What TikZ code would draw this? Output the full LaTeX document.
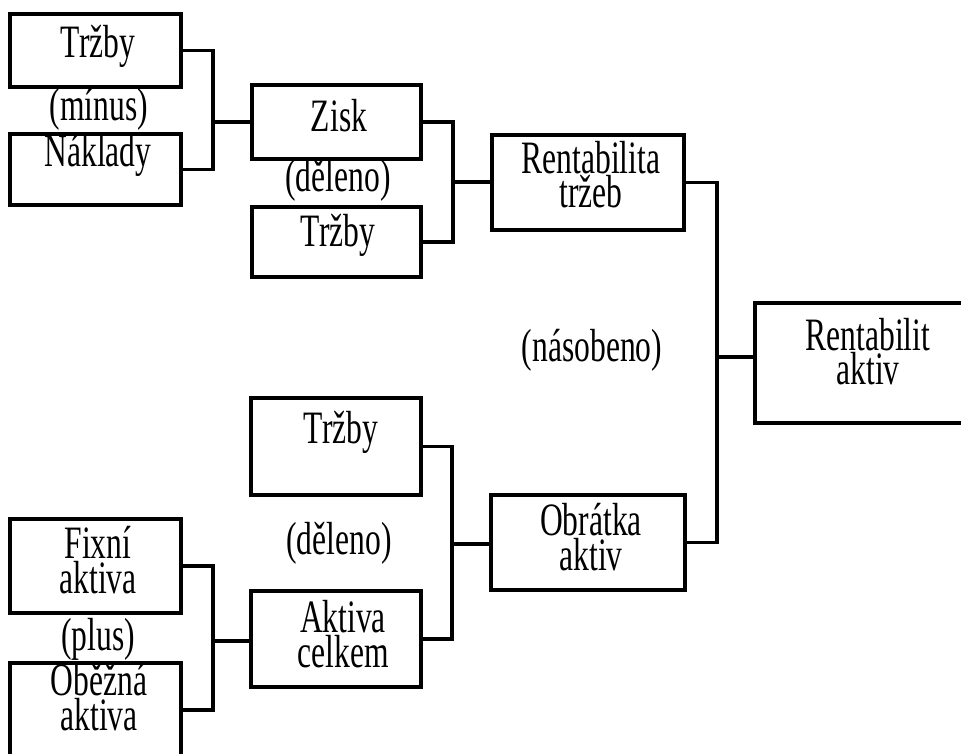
\documentclass[tikz,border=0pt]{standalone}
\usepackage{fontspec}
\setmainfont{Liberation Serif}[FakeStretch=0.68]
\usepackage{tikz}
\usetikzlibrary{fit}

\begin{document}
\begin{tikzpicture}[
x=0.025cm, y=-0.025cm,
Box/.style={draw=black, line width=2.2pt, inner sep=0pt},
Link/.style={draw=black, line width=2.6pt},
Label/.style={font=\fontsize{33}{24.5}\selectfont, align=center, anchor=base, inner sep=0pt}
]

\useasboundingbox (0,0) rectangle (961,754);
\clip (0,0) rectangle (961,754);

% boxes
\node[Box, fit={(10,14) (181,87)}]    (trzbyA)  {};
\node[Box, fit={(10,134) (181,205)}]  (naklady) {};
\node[Box, fit={(252,85) (421,159)}]  (zisk)    {};
\node[Box, fit={(252,207) (421,277)}] (trzbyB)  {};
\node[Box, fit={(492,135) (684,230)}] (rentTrz) {};
\node[Box, fit={(755,303) (985,423)}] (rentAkt) {};
\node[Box, fit={(251,398) (421,495)}] (trzbyC)  {};
\node[Box, fit={(491,495) (685,590)}] (obratka) {};
\node[Box, fit={(251,591) (421,687)}] (aktCelk) {};
\node[Box, fit={(10,519) (181,613)}]  (fixni)   {};
\node[Box, fit={(10,663) (181,757)}]  (obezna)  {};

% texts (base = last line)
\node[Label] (tTrzbyA)  at (98,58)   {Tržby};
\node[Label] (tMinus)   at (99,121)  {(mínus)};
\node[Label] (tNaklady) at (98,167)  {Náklady};
\node[Label] (tZisk)    at (339,132) {Zisk};
\node[Label] (tDelenoA) at (338,192) {(děleno)};
\node[Label] (tTrzbyB)  at (338,247) {Tržby};
\node[Label] (tRentTrz) at (591,208) {Rentabilita\\tržeb};
\node[Label] (tNasob)   at (592,362) {(násobeno)};
\node[Label] (tRentAkt) at (868,385) {Rentabilit\\aktiv};
\node[Label] (tTrzbyC)  at (341,443) {Tržby};
\node[Label] (tDelenoB) at (339,554) {(děleno)};
\node[Label] (tObratka) at (591,570) {Obrátka\\aktiv};
\node[Label] (tAktCelk) at (343,667) {Aktiva\\celkem};
\node[Label] (tFixni)   at (98,593)  {Fixní\\aktiva};
\node[Label] (tPlus)    at (98,650)  {(plus)};
\node[Label] (tObezna)  at (99,730)  {Oběžná\\aktiva};

% junctions
\coordinate (j1) at (213,122);
\coordinate (j2) at (453,182);
\coordinate (j3) at (717,357);
\coordinate (j4) at (452,544);
\coordinate (j5) at (213,641);

% connectors
\draw[Link] (trzbyA.east) -| (j1) |- (naklady.east);
\draw[Link] (j1) -- (j1 -| zisk.west);

\draw[Link] (zisk.east) -| (j2) |- (trzbyB.east);
\draw[Link] (j2) -- (j2 -| rentTrz.west);

\draw[Link] (rentTrz.east) -| (j3) |- (obratka.east);
\draw[Link] (j3) -- (j3 -| rentAkt.west);

\draw[Link] (trzbyC.east) -| (j4) |- (aktCelk.east);
\draw[Link] (j4) -- (j4 -| obratka.west);

\draw[Link] (fixni.east) -| (j5) |- (obezna.east);
\draw[Link] (j5) -- (j5 -| aktCelk.west);

\end{tikzpicture}
\end{document}
